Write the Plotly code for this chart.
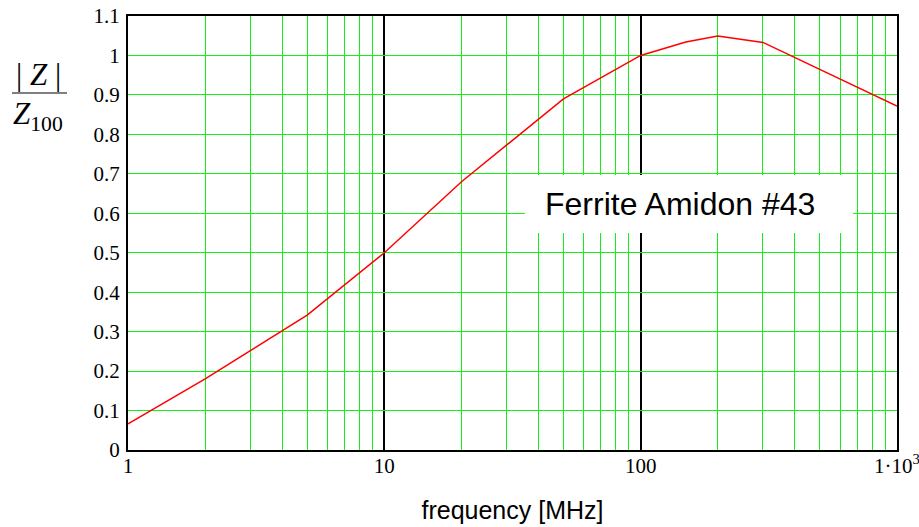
import plotly.graph_objects as go

freq_mhz = [1, 2, 5, 10, 20, 50, 100, 150, 200, 300, 1000]
z_norm = [0.066, 0.18, 0.342, 0.5, 0.68, 0.89, 1.0, 1.034, 1.049, 1.033, 0.872]

x_tickvals = [1, 10, 100, 1000]
x_ticktext = ["1", "10", "100", "1·10<sup>3</sup>"]
y_tickvals = [0, 0.1, 0.2, 0.3, 0.4, 0.5, 0.6, 0.7, 0.8, 0.9, 1.0, 1.1]
y_ticktext = ["0", "0.1", "0.2", "0.3", "0.4", "0.5", "0.6", "0.7", "0.8", "0.9", "1", "1.1"]

GREEN = "#14f014"
SERIF = "Liberation Serif, Times New Roman, serif"
SANS = "Liberation Sans, Arial, sans-serif"

fig = go.Figure()
fig.add_trace(go.Scatter(x=freq_mhz, y=z_norm, mode="lines",
                         line=dict(color="red", width=1.5), showlegend=False))

fig.update_layout(
    width=919, height=527,
    margin=dict(l=128, r=22, t=16, b=77, autoexpand=False),
    plot_bgcolor="white", paper_bgcolor="white",
    xaxis=dict(
        type="log", range=[0, 3.00001], automargin=False,
        tickvals=x_tickvals, ticktext=x_ticktext, ticklabeloverflow="allow",
        showgrid=True, gridcolor="black", gridwidth=1.5,
        minor=dict(dtick="D1", showgrid=True, gridcolor=GREEN, gridwidth=1, ticks=""),
        showline=True, linecolor="black", linewidth=2, mirror=True,
        ticks="", zeroline=False, ticklabelstandoff=-4,
        tickfont=dict(family=SERIF, size=21, color="black"),
        title=dict(text="frequency [MHz]", font=dict(family=SANS, size=25, color="black"), standoff=24),
    ),
    yaxis=dict(
        range=[0, 1.1], tickvals=y_tickvals, ticktext=y_ticktext, automargin=False,
        showgrid=True, gridcolor=GREEN, gridwidth=1,
        showline=True, linecolor="black", linewidth=2, mirror=True,
        ticks="", zeroline=False, ticklabelstandoff=2,
        tickfont=dict(family=SERIF, size=21, color="black"),
    ),
)

# Y label as a fraction
fig.add_annotation(text="| <i>Z</i> |", xref="paper", yref="paper", xanchor="center", yanchor="middle",
                   x=(38 - 128) / 769, y=(450 - 74) / 434, showarrow=False,
                   font=dict(family=SERIF, size=31, color="black"))
fig.add_shape(type="line", xref="paper", yref="paper",
              x0=(12 - 128) / 769, x1=(67 - 128) / 769,
              y0=(450 - 93) / 434, y1=(450 - 93) / 434,
              line=dict(color="black", width=1.2))
fig.add_annotation(text="<i>Z</i><sub>100</sub>", xref="paper", yref="paper", xanchor="center", yanchor="middle",
                   x=(38 - 128) / 769, y=(450 - 116) / 434, showarrow=False,
                   font=dict(family=SERIF, size=31, color="black"))

# Label box
fig.add_shape(type="rect", xref="paper", yref="paper", layer="above",
              x0=(525 - 128) / 769, x1=(853 - 128) / 769,
              y0=(450 - 233) / 434, y1=(450 - 175) / 434,
              fillcolor="white", line=dict(width=0))
fig.add_annotation(text="Ferrite Amidon #43", xref="paper", yref="paper", xanchor="center", yanchor="middle",
                   x=(680 - 128) / 769, y=(450 - 204) / 434, showarrow=False,
                   font=dict(family=SANS, size=32, color="black"))

fig.write_html("out.html", config={"displayModeBar": False},
               post_script="document.body.style.margin='0';")
